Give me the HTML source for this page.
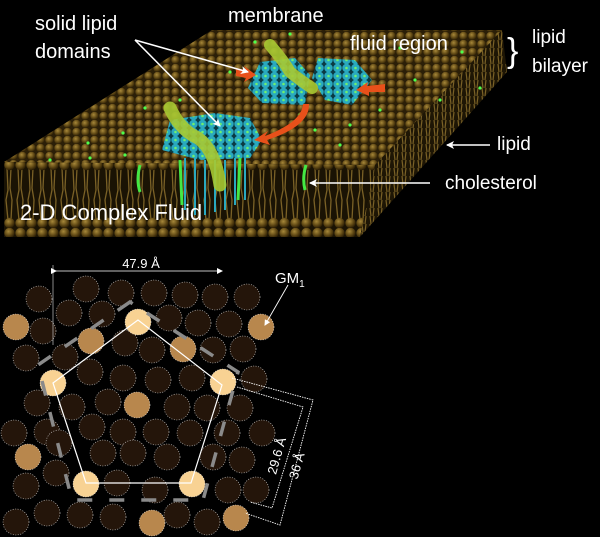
<!DOCTYPE html>
<html><head><meta charset="utf-8">
<style>
html,body{margin:0;padding:0;background:#000;}
svg{display:block;}
text{font-family:"Liberation Sans",sans-serif;fill:#fff;}
</style></head>
<body>
<svg width="600" height="537" viewBox="0 0 600 537" xmlns="http://www.w3.org/2000/svg">
<defs>
  <radialGradient id="hg" cx="40%" cy="35%" r="65%">
    <stop offset="0" stop-color="#a8893a"/>
    <stop offset="0.6" stop-color="#5e4714"/>
    <stop offset="1" stop-color="#2a1d05"/>
  </radialGradient>
  <pattern id="topP" width="9" height="8" patternUnits="userSpaceOnUse">
    <rect width="9" height="8" fill="#2b1f08"/>
    <circle cx="4.5" cy="4" r="4.2" fill="url(#hg)"/>
  </pattern>
  <pattern id="frontP" width="11" height="68" patternUnits="userSpaceOnUse" x="4" y="160">
    <rect width="11" height="68" fill="#1a1304"/>
    <path d="M3 8 L4 30 L2 40 L4 60 M7 8 L6 28 L8 40 L7 60" stroke="#7a6126" stroke-width="1.3" fill="none"/>
    <circle cx="5.5" cy="5" r="5.2" fill="url(#hg)"/>
    <circle cx="5.5" cy="63" r="5.2" fill="url(#hg)"/>
  </pattern>
  <pattern id="sideP" width="8" height="8" patternUnits="userSpaceOnUse">
    <rect width="8" height="8" fill="#1e1605"/>
    <path d="M2 0 L3 8 M6 0 L5 8" stroke="#7a6126" stroke-width="1.2"/>
  </pattern>
  <pattern id="blueP" width="9" height="8" patternUnits="userSpaceOnUse">
    <rect width="9" height="8" fill="#0a3a44"/>
    <circle cx="4.5" cy="4" r="4.2" fill="#29a9bf"/>
    <circle cx="4.5" cy="4" r="1.3" fill="#6ff06f"/>
  </pattern>
  <marker id="ah" markerWidth="8" markerHeight="8" refX="7" refY="4" orient="auto" markerUnits="userSpaceOnUse">
    <path d="M0 0 L8 4 L0 8 L2 4 Z" fill="#fff"/>
  </marker>
  <marker id="ahs" markerWidth="6" markerHeight="6" refX="5" refY="3" orient="auto" markerUnits="userSpaceOnUse">
    <path d="M0 0 L6 3 L0 6 Z" fill="#fff"/>
  </marker>
</defs>

<polygon points="375,165 502,30 507,72 360,237" fill="url(#sideP)"/>
<polygon points="4,162 375,165 360,237 4,237" fill="url(#frontP)"/>
<polygon points="4,162 212,30 502,30 375,165" fill="url(#topP)"/>
<g fill="#4dff4d">
<circle cx="290" cy="34" r="1.6"/><circle cx="255" cy="42" r="1.6"/><circle cx="400" cy="48" r="1.6"/><circle cx="462" cy="52" r="1.6"/><circle cx="145" cy="108" r="1.6"/><circle cx="180" cy="100" r="1.6"/><circle cx="88" cy="143" r="1.6"/><circle cx="50" cy="160" r="1.6"/><circle cx="123" cy="133" r="1.6"/><circle cx="315" cy="130" r="1.6"/><circle cx="350" cy="125" r="1.6"/><circle cx="380" cy="110" r="1.6"/><circle cx="415" cy="80" r="1.6"/><circle cx="440" cy="100" r="1.6"/><circle cx="230" cy="72" r="1.6"/><circle cx="300" cy="115" r="1.6"/><circle cx="260" cy="140" r="1.6"/><circle cx="90" cy="158" r="1.6"/><circle cx="125" cy="155" r="1.6"/><circle cx="480" cy="88" r="1.6"/><circle cx="340" cy="145" r="1.6"/>
</g>
<polygon points="260,62 295,58 310,75 305,105 262,103 248,88" fill="url(#blueP)"/>
<polygon points="318,58 355,60 372,80 352,105 325,100 312,78" fill="url(#blueP)"/>
<polygon points="170,120 215,113 250,118 262,140 250,158 200,160 162,150" fill="url(#blueP)"/>
<g stroke="#2aa9bf" stroke-width="2">
<path d="M185 158 V210 M195 158 V215 M205 160 V215 M215 160 V212 M225 160 V210 M235 158 V205 M245 158 V200"/>
</g>
<g stroke="#44e844" stroke-width="3" fill="none">
<path d="M180 160 L182 205 M240 158 L238 200 M140 165 Q136 180 140 192 M306 165 Q302 178 305 190"/>
</g>
<path d="M270 45 Q283 60 290 72 Q300 80 312 88" stroke="#a7c932" stroke-width="12" fill="none" stroke-linecap="round" opacity="0.9"/>
<path d="M170 108 Q180 130 198 138 Q215 150 220 185" stroke="#a7c932" stroke-width="13" fill="none" stroke-linecap="round" opacity="0.9"/>
<g fill="#e8501a">
<polygon points="236,68 246,70 244,66 256,75 244,82 246,78 236,76"/>
<polygon points="385,84 367,86 368,82 356,90 369,96 369,92 385,92"/>
<path d="M303 104 Q302 122 265 136 L268 131 L254 140 L270 145 L267 140 Q310 126 309 104 Z"/>
</g>

<text x="35" y="30" font-size="20">solid lipid</text>
<text x="35" y="58" font-size="20">domains</text>
<text x="228" y="22" font-size="20">membrane</text>
<text x="350" y="50" font-size="20">fluid region</text>
<text x="507" y="62" font-size="34">}</text>
<text x="532" y="43" font-size="19">lipid</text>
<text x="532" y="72" font-size="19">bilayer</text>
<text x="497" y="150" font-size="19">lipid</text>
<text x="445" y="189" font-size="19">cholesterol</text>
<text x="20" y="220" font-size="22">2-D Complex Fluid</text>
<g stroke="#fff" stroke-width="1.6">
<line x1="135" y1="40" x2="248" y2="72" marker-end="url(#ah)"/>
<line x1="135" y1="40" x2="220" y2="126" marker-end="url(#ah)"/>
<line x1="490" y1="145" x2="447" y2="145" marker-end="url(#ah)"/>
<line x1="430" y1="183" x2="310" y2="183" marker-end="url(#ah)"/>
</g>

<g stroke="#ddd" stroke-width="0.6" stroke-dasharray="1,1.5">
<g fill="#24150a">
<circle cx="86" cy="289" r="13"/><circle cx="121" cy="293" r="13"/><circle cx="154" cy="293" r="13"/><circle cx="185" cy="295" r="13"/><circle cx="215" cy="297" r="13"/><circle cx="247" cy="297" r="13"/><circle cx="39" cy="299" r="13"/>
<circle cx="43" cy="331" r="13"/><circle cx="69" cy="313" r="13"/><circle cx="102" cy="314" r="13"/><circle cx="169" cy="318" r="13"/><circle cx="198" cy="323" r="13"/><circle cx="229" cy="324" r="13"/>
<circle cx="26" cy="358" r="13"/><circle cx="65" cy="357" r="13"/><circle cx="125" cy="343" r="13"/><circle cx="152" cy="350" r="13"/><circle cx="213" cy="350" r="13"/><circle cx="243" cy="349" r="13"/>
<circle cx="90" cy="372" r="13"/><circle cx="123" cy="378" r="13"/><circle cx="158" cy="380" r="13"/><circle cx="192" cy="378" r="13"/><circle cx="254" cy="379" r="13"/>
<circle cx="37" cy="403" r="13"/><circle cx="72" cy="407" r="13"/><circle cx="108" cy="402" r="13"/><circle cx="177" cy="407" r="13"/><circle cx="207" cy="408" r="13"/><circle cx="240" cy="408" r="13"/>
<circle cx="14" cy="433" r="13"/><circle cx="47" cy="432" r="13"/><circle cx="92" cy="427" r="13"/><circle cx="123" cy="432" r="13"/><circle cx="156" cy="432" r="13"/><circle cx="190" cy="433" r="13"/><circle cx="227" cy="433" r="13"/><circle cx="262" cy="433" r="13"/>
<circle cx="59" cy="443" r="13"/><circle cx="103" cy="453" r="13"/><circle cx="133" cy="453" r="13"/><circle cx="167" cy="457" r="13"/><circle cx="213" cy="457" r="13"/><circle cx="242" cy="460" r="13"/>
<circle cx="26" cy="486" r="13"/><circle cx="56" cy="473" r="13"/><circle cx="117" cy="483" r="13"/><circle cx="155" cy="490" r="13"/><circle cx="228" cy="490" r="13"/><circle cx="256" cy="490" r="13"/>
<circle cx="16" cy="522" r="13"/><circle cx="47" cy="513" r="13"/><circle cx="80" cy="515" r="13"/><circle cx="113" cy="517" r="13"/><circle cx="177" cy="515" r="13"/><circle cx="207" cy="522" r="13"/>
</g>
<g fill="#b8874d">
<circle cx="16" cy="327" r="13"/><circle cx="261" cy="327" r="13"/><circle cx="91" cy="341" r="13"/><circle cx="183" cy="349" r="13"/><circle cx="137" cy="405" r="13"/><circle cx="28" cy="457" r="13"/><circle cx="152" cy="523" r="13"/><circle cx="236" cy="518" r="13"/>
</g>
<g fill="#f8d293">
<circle cx="138" cy="322" r="13"/><circle cx="53" cy="383" r="13"/><circle cx="223" cy="382" r="13"/><circle cx="86" cy="484" r="13"/><circle cx="192" cy="484" r="13"/>
</g>
</g>
<polygon points="130,302 38,365 72,500 203,500 238,372" fill="none" stroke="#8a8a8a" stroke-width="3.5" stroke-dasharray="15,17"/>
<polygon points="138,320 53,383 86,483 191,483 222,385" fill="none" stroke="#fff" stroke-width="1.2"/>
<line x1="53" y1="265" x2="53" y2="345" stroke="#aaa" stroke-width="0.8"/>
<line x1="56" y1="271" x2="222" y2="271" stroke="#fff" stroke-width="0.8" marker-start="url(#ahs)" marker-end="url(#ahs)"/>
<text x="141" y="268" font-size="13" text-anchor="middle">47.9 Å</text>
<g stroke="#fff" stroke-width="0.9" stroke-dasharray="1.5,1" fill="none">
<polyline points="232,378 313,400 280,525 245,513"/>
<polyline points="237,387 303,407 272,508 250,502"/>
</g>
<text transform="translate(281,457) rotate(-74)" font-size="13" text-anchor="middle">29.6 Å</text>
<text transform="translate(301,467) rotate(-74)" font-size="13" text-anchor="middle">36 Å</text>
<text x="275" y="283" font-size="15">GM<tspan font-size="10" dy="4">1</tspan></text>
<line x1="288" y1="285" x2="265" y2="325" stroke="#fff" stroke-width="0.9" marker-end="url(#ahs)"/>
</svg>
</body></html>
